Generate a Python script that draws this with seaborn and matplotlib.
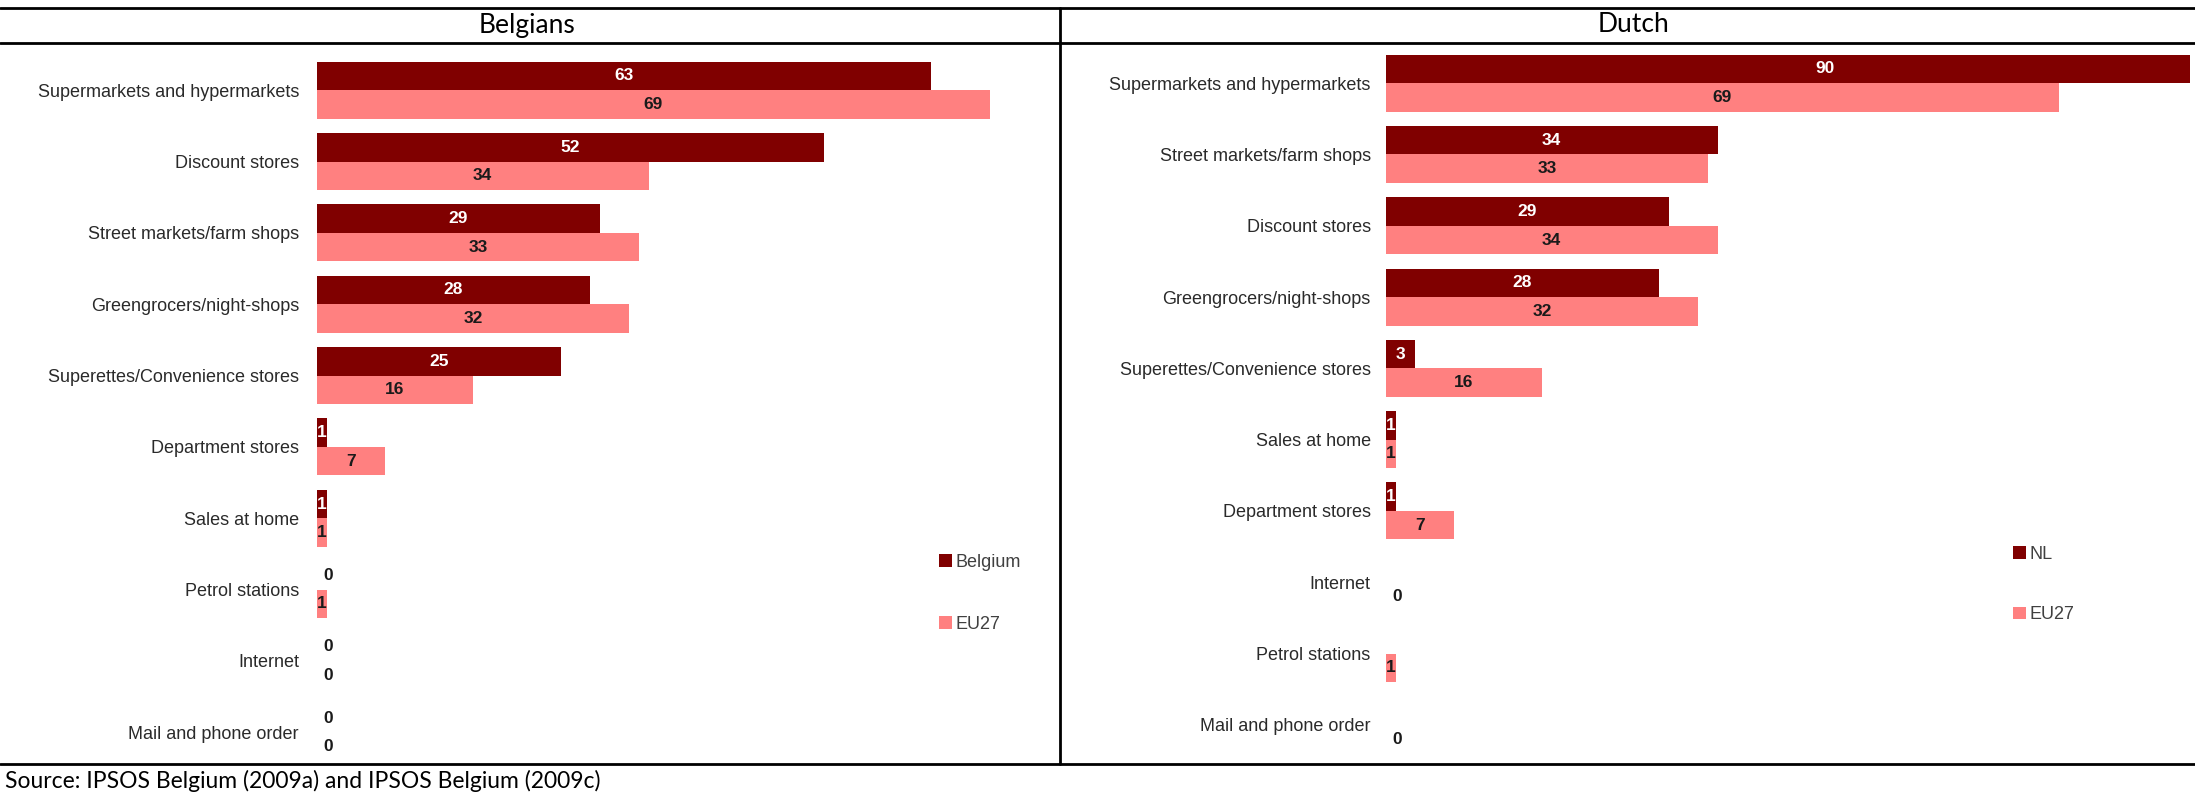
import numpy as np
import pandas as pd
import matplotlib
matplotlib.use("Agg")
import matplotlib.pyplot as plt
from matplotlib.lines import Line2D
import seaborn as sns

# ---- data -------------------------------------------------------------
be_categories = ["Supermarkets and hypermarkets", "Discount stores", "Street markets/farm shops",
                 "Greengrocers/night-shops", "Superettes/Convenience stores", "Department stores",
                 "Sales at home", "Petrol stations", "Internet", "Mail and phone order"]
be_belgium = [63, 52, 29, 28, 25, 1, 1, 0, 0, 0]
be_eu27 = [69, 34, 33, 32, 16, 7, 1, 1, 0, 0]

nl_categories = ["Supermarkets and hypermarkets", "Street markets/farm shops", "Discount stores",
                 "Greengrocers/night-shops", "Superettes/Convenience stores", "Sales at home",
                 "Department stores", "Internet", "Petrol stations", "Mail and phone order"]
nl_nl = [90, 34, 29, 28, 3, 1, 1, np.nan, np.nan, np.nan]
nl_eu27 = [69, 33, 34, 32, 16, 1, 7, 0, 1, 0]

panel_titles = ["Belgians", "Dutch"]
source_text = "Source: IPSOS Belgium (2009a) and IPSOS Belgium (2009c)"

DARK = "#800000"
LIGHT = "#FF8080"

sns.set_theme(style="white")
plt.rcParams["font.family"] = ["Liberation Sans", "DejaVu Sans"]

W, H = 2195, 795
fig = plt.figure(figsize=(W / 100, H / 100), dpi=100)


def px_rect(x0, x1, ytop, ybot):
    return [x0 / W, 1 - ybot / H, (x1 - x0) / W, (ybot - ytop) / H]


def long_frame(cats, a, b, name_a, name_b):
    return pd.DataFrame({
        "category": cats * 2,
        "value": list(a) + list(b),
        "group": [name_a] * len(cats) + [name_b] * len(cats),
    })


def draw_panel(rect, xmax, cats, a, b, name_a, name_b, pad, legend_xy, legend_gap):
    ax = fig.add_axes(rect)
    df = long_frame(cats, a, b, name_a, name_b)
    sns.barplot(data=df, y="category", x="value", hue="group", order=cats,
                hue_order=[name_a, name_b], palette=[DARK, LIGHT], orient="h",
                errorbar=None, width=0.8, saturation=1, linewidth=0,
                ax=ax, legend=True)
    ax.set_xlim(0, xmax)
    ax.set_ylim(len(cats) - 0.5, -0.5)
    ax.set_xlabel("")
    ax.set_ylabel("")
    ax.set_xticks([])
    for s in ax.spines.values():
        s.set_visible(False)
    ax.tick_params(axis="y", length=0, pad=pad, labelsize=13, labelcolor="#2a2a2a")
    ax.grid(False)

    # value labels centred in each bar
    for cont, col in zip(ax.containers, ["white", "#1a1a1a"]):
        for patch in cont.patches:
            v = patch.get_width()
            if not np.isfinite(v):
                continue
            yc = patch.get_y() + patch.get_height() / 2
            xc = v / 2 if v > 0 else 1.1
            tc = col if v > 0 else "#1a1a1a"
            ax.text(xc, yc, f"{v:.0f}", ha="center", va="center", fontsize=12.5,
                    fontweight="bold", color=tc, clip_on=False)

    handles, labels = ax.get_legend_handles_labels()
    ax.get_legend().remove()
    fig.legend(handles, labels, loc="center left",
               bbox_to_anchor=(legend_xy[0] / W, 1 - legend_xy[1] / H),
               frameon=False, fontsize=13, handlelength=0.7, handleheight=0.7,
               handletextpad=0.2, labelspacing=legend_gap, borderpad=0,
               borderaxespad=0, labelcolor="#404040")
    return ax


draw_panel(px_rect(317, 1050, 54.5, 768), (1050 - 317) / 9.75,
           be_categories, be_belgium, be_eu27, "Belgium", "EU27",
           pad=13, legend_xy=(939, 593.5), legend_gap=2.5)
draw_panel(px_rect(1386, 2190, 47.5, 760.5), (2190 - 1386) / 9.75,
           nl_categories, nl_nl, nl_eu27, "NL", "EU27",
           pad=11, legend_xy=(2013, 584.5), legend_gap=2.4)

# table frame
lw = 2.0
for y in (7.5, 43, 764):
    fig.add_artist(Line2D([0, 1], [1 - y / H] * 2, transform=fig.transFigure,
                          color="black", lw=lw))
fig.add_artist(Line2D([1060 / W] * 2, [1 - 7.5 / H, 1 - 764 / H],
                      transform=fig.transFigure, color="black", lw=lw))

# column headers
for title, xc in zip(panel_titles, [527, 1633]):
    fig.text(xc / W, 1 - 25 / H, title, ha="center", va="center",
             fontsize=19, family=["Lato", "DejaVu Sans"], color="black")

fig.text(5 / W, 1 - 781 / H, source_text, ha="left", va="center", fontsize=16.5,
         family=["Lato", "DejaVu Sans"], color="black")

fig.savefig("out.png", dpi=100)
